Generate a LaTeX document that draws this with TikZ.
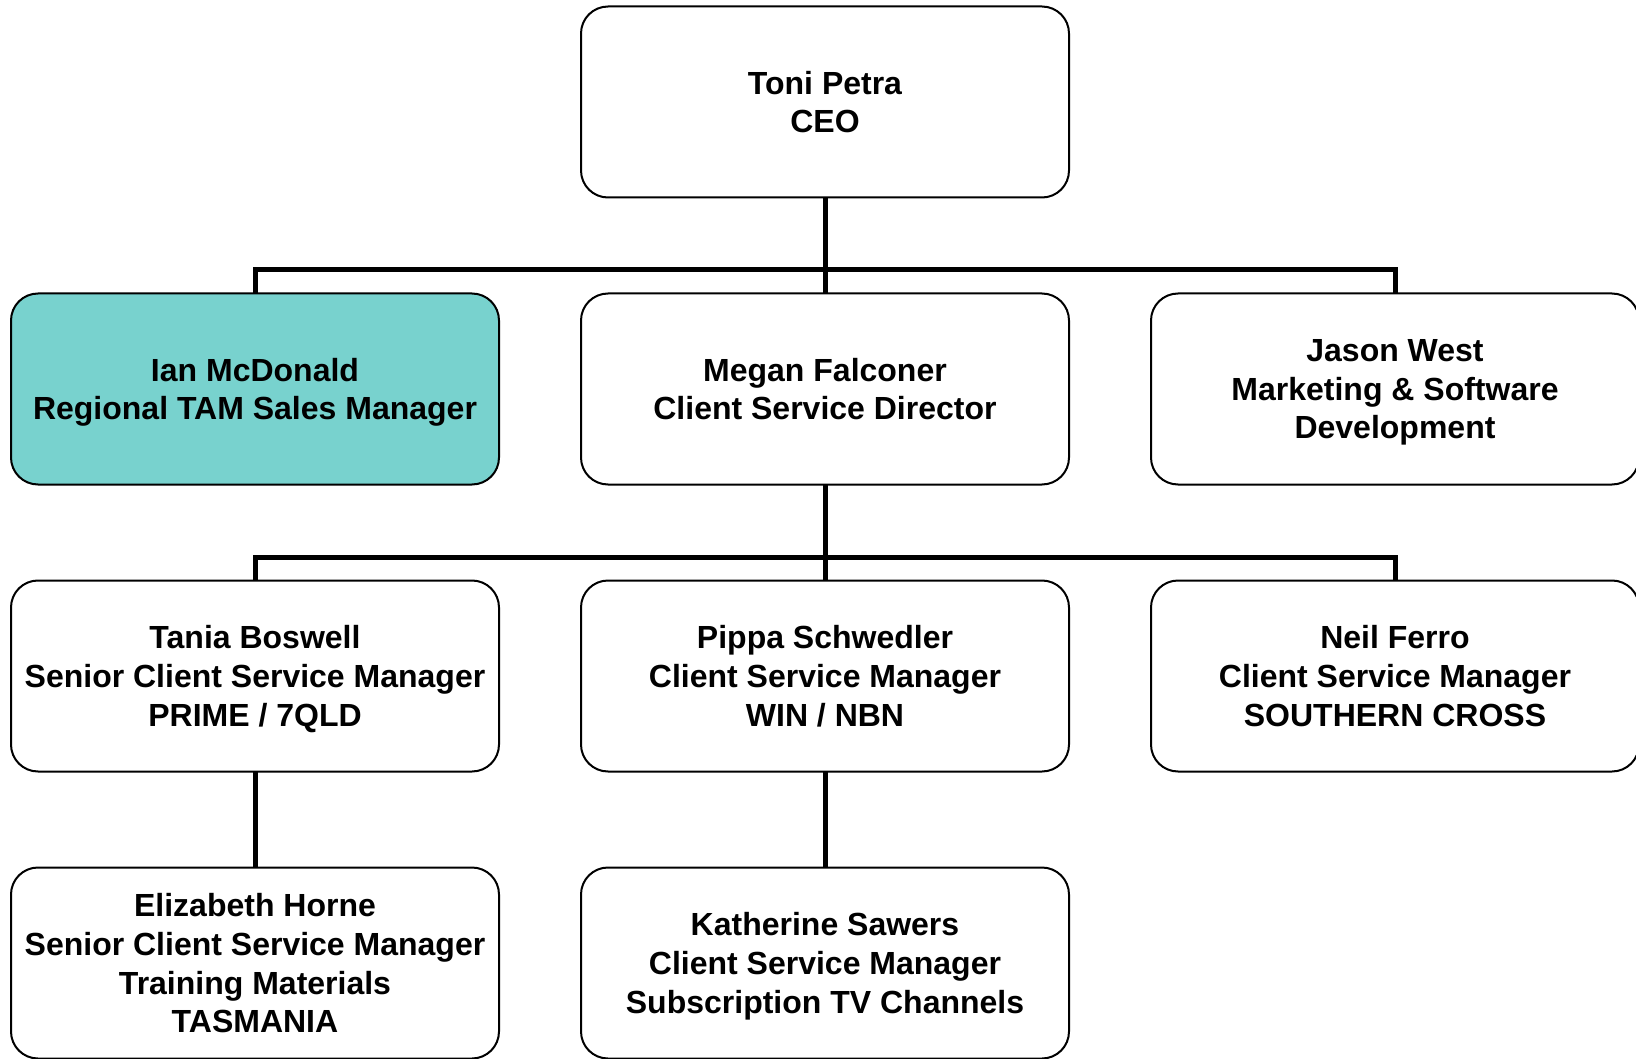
\documentclass[tikz,border=0pt]{standalone}
\usepackage{fontspec}
\setmainfont{Liberation Sans}
\usetikzlibrary{positioning}

\definecolor{tealfill}{RGB}{120,210,206}

\begin{document}
\begin{tikzpicture}[x=1pt,y=1pt,node distance=96pt and 82pt,
      staff/.style={rectangle,draw=black,line width=2pt,rounded corners=27pt,
        minimum width=488pt,minimum height=191pt,inner sep=0pt,outer sep=0pt,
        align=center,font=\bfseries\fontsize{32}{38.8}\selectfont,
        text depth=-4pt},
      link/.style={line width=5pt}]
\useasboundingbox (0,0) rectangle (1636,-1059);
\node (toni) [staff] at (825,-102) {Toni Petra\\CEO};
\node (megan) [staff,below=of toni] {Megan Falconer\\Client Service Director};
\node (ian) [staff,fill=tealfill,left=of megan] {Ian McDonald\\Regional TAM Sales Manager};
\node (jason) [staff,right=of megan] {Jason West\\Marketing \& Software\\Development};
\node (pippa) [staff,below=of megan] {Pippa Schwedler\\Client Service Manager\\WIN / NBN};
\node (tania) [staff,left=of pippa] {Tania Boswell\\Senior Client Service Manager\\PRIME / 7QLD};
\node (neil) [staff,right=of pippa] {Neil Ferro\\Client Service Manager\\SOUTHERN CROSS};
\node (elizabeth) [staff,below=of tania] {Elizabeth Horne\\Senior Client Service Manager\\Training Materials\\TASMANIA};
\node (katherine) [staff,below=of pippa] {Katherine Sawers\\Client Service Manager\\Subscription TV Channels};
% bars of the tree
\coordinate (bar1) at ([yshift=-72pt]toni.south);
\coordinate (bar2) at ([yshift=-73pt]megan.south);
\draw[link] (toni.south) -- (megan.north);
\draw[link] (ian.north) |- (bar1) -| (jason.north);
\draw[link] (megan.south) -- (pippa.north);
\draw[link] (tania.north) |- (bar2) -| (neil.north);
\draw[link] (tania.south) -- (elizabeth.north);
\draw[link] (pippa.south) -- (katherine.north);
\end{tikzpicture}
\end{document}
